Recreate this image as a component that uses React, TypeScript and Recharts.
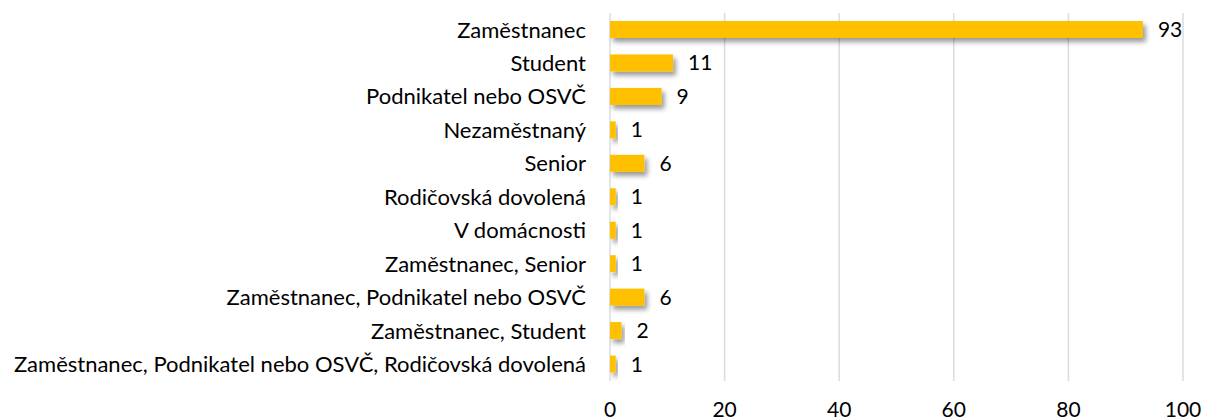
import React from "react";
import { BarChart, Bar, XAxis, YAxis, CartesianGrid, LabelList } from "recharts";

const categories = [
  "Zaměstnanec",
  "Student",
  "Podnikatel nebo OSVČ",
  "Nezaměstnaný",
  "Senior",
  "Rodičovská dovolená",
  "V domácnosti",
  "Zaměstnanec, Senior",
  "Zaměstnanec, Podnikatel nebo OSVČ",
  "Zaměstnanec, Student",
  "Zaměstnanec, Podnikatel nebo OSVČ, Rodičovská dovolená",
];
const counts = [93, 11, 9, 1, 6, 1, 1, 1, 6, 2, 1];
const xTicks = [0, 20, 40, 60, 80, 100];

const data = categories.map((name, i) => ({ name, value: counts[i] }));

const FONT = "Lato, 'Liberation Sans', sans-serif";

const ShadowBar = (props: any) => {
  const { x, y, width, height } = props;
  if (width <= 0) return null;
  return <rect x={x} y={y} width={width} height={height} fill="#FFC000" filter="url(#barShadow)" />;
};

export default function App() {
  return (
    <div style={{ position: "absolute", left: 0, top: 0, width: 1205, height: 418, background: "#fff" }}>
      <svg width={0} height={0} style={{ position: "absolute" }}>
        <defs>
          <filter id="barShadow" x="-20%" y="-50%" width="150%" height="250%">
            <feGaussianBlur in="SourceAlpha" stdDeviation="2.5" />
            <feOffset dx="3" dy="4" result="ob" />
            <feComponentTransfer>
              <feFuncA type="linear" slope="0.4" />
            </feComponentTransfer>
            <feMerge>
              <feMergeNode />
              <feMergeNode in="SourceGraphic" />
            </feMerge>
          </filter>
        </defs>
      </svg>
      <BarChart
        width={1205}
        height={418}
        data={data}
        layout="vertical"
        margin={{ top: 13, right: 22, bottom: 0, left: 0 }}
        barCategoryGap={0}
      >
        <CartesianGrid horizontal={false} vertical={true} stroke="#D9DCE3" strokeWidth={1.5} />
        <XAxis
          type="number"
          domain={[0, 100]}
          ticks={xTicks}
          axisLine={false}
          tickLine={false}
          tickSize={0}
          tickMargin={21}
          height={37}
          interval={0}
          tick={{ fill: "#000", fontSize: 21, fontFamily: FONT }}
        />
        <YAxis
          type="category"
          dataKey="name"
          width={610}
          axisLine={false}
          tickLine={false}
          tickSize={0}
          tickMargin={24}
          interval={0}
          tick={{ fill: "#000", fontSize: 22, fontFamily: FONT }}
        />
        <Bar dataKey="value" barSize={17} isAnimationActive={false} shape={<ShadowBar />}>
          <LabelList dataKey="value" position="right" offset={15} fill="#000" fontSize={21} fontFamily={FONT} />
        </Bar>
      </BarChart>
    </div>
  );
}
